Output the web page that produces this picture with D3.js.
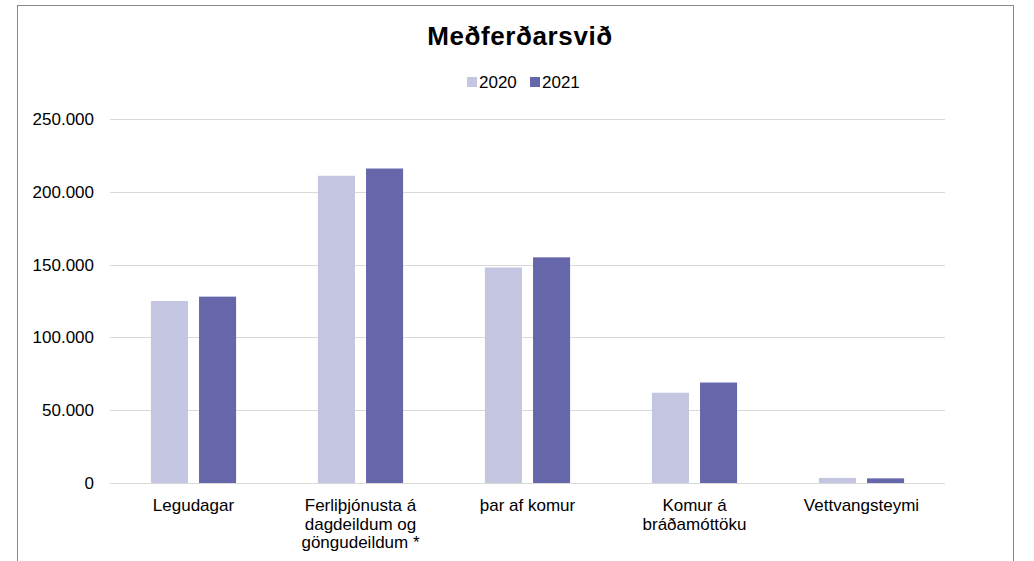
<!DOCTYPE html>
<html lang="is">
<head>
    <meta charset="UTF-8">
    <title>Meðferðarsvið</title>
    <script src="https://d3js.org/d3.v7.min.js"></script>
    <style>
        body {
            margin: 0;
            background: #fff;
            font-family: "Liberation Sans", Arial, sans-serif;
        }
        .grid line { stroke: #d9d9d9; stroke-width: 1; }
        .axis text { font-size: 17px; fill: #000; }
        .title { font-size: 26px; font-weight: bold; text-anchor: middle; letter-spacing: 0.6px; }
        .legend text { font-size: 17px; }
    </style>
</head>
<body>
<svg id="chart"></svg>
<script>
    const width = 1034, height = 561;

    const categories = [
        "Legudagar",
        "Ferliþjónusta á\ndagdeildum og\ngöngudeildum *",
        "þar af komur",
        "Komur á\nbráðamóttöku",
        "Vettvangsteymi"
    ];
    const seriesNames = ["2020", "2021"];
    const values2020 = [125000, 211000, 148000, 62000, 3500];
    const values2021 = [128000, 216000, 155000, 69000, 3200];
    const colors = ["#c4c6e1", "#6667aa"];
    const yTicks = [0, 50000, 100000, 150000, 200000, 250000];

    const data = categories.map((c, i) => ({ cat: c, vals: [values2020[i], values2021[i]] }));

    const svg = d3.select("#chart").attr("width", width).attr("height", height);

    // outer frame
    svg.append("rect")
        .attr("x", 17.5).attr("y", 5.5)
        .attr("width", 996).attr("height", 570)
        .attr("fill", "none").attr("stroke", "#888").attr("stroke-width", 1);

    const x0 = d3.scaleBand().domain(categories).range([110, 945])
        .paddingInner(0.49).paddingOuter(0.245);
    const x1 = d3.scaleBand().domain(seriesNames).range([0, x0.bandwidth()])
        .paddingInner(0.23).paddingOuter(0);
    const y = d3.scaleLinear().domain([0, 250000]).range([483, 119]);

    const fmt = v => d3.format(",")(v).replace(/,/g, ".");

    // gridlines
    svg.append("g").attr("class", "grid")
        .selectAll("line").data(yTicks).enter().append("line")
        .attr("x1", 110).attr("x2", 945)
        .attr("y1", d => Math.round(y(d)) + 0.5)
        .attr("y2", d => Math.round(y(d)) + 0.5);

    // y labels
    svg.append("g").attr("class", "axis")
        .selectAll("text").data(yTicks).enter().append("text")
        .attr("x", 94).attr("y", d => y(d))
        .attr("dy", "0.35em")
        .attr("text-anchor", "end")
        .text(d => fmt(d));

    // bars
    const groups = svg.append("g").selectAll("g").data(data).enter().append("g")
        .attr("transform", d => `translate(${x0(d.cat)},0)`);
    groups.selectAll("rect")
        .data(d => d.vals.map((v, i) => ({ name: seriesNames[i], v, i })))
        .enter().append("rect")
        .attr("x", d => x1(d.name))
        .attr("width", x1.bandwidth())
        .attr("y", d => y(d.v))
        .attr("height", d => y(0) - y(d.v))
        .attr("fill", d => colors[d.i]);

    // category labels
    const catLabels = svg.append("g").attr("class", "axis")
        .selectAll("text").data(categories).enter().append("text")
        .attr("text-anchor", "middle")
        .attr("transform", d => `translate(${x0(d) + x0.bandwidth() / 2},511)`);
    catLabels.each(function(d) {
        const t = d3.select(this);
        d.split("\n").forEach((line, i) => {
            t.append("tspan").attr("x", 0).attr("y", i * 18.5).text(line);
        });
    });

    // title
    svg.append("text").attr("class", "title")
        .attr("x", 520).attr("y", 45)
        .text("Meðferðarsvið");

    // legend
    const legend = svg.append("g").attr("class", "legend")
        .attr("transform", "translate(467,88)");
    const legendItems = legend.selectAll("g").data(seriesNames).enter().append("g")
        .attr("transform", (d, i) => `translate(${i * 63},0)`);
    legendItems.append("rect")
        .attr("x", 0).attr("y", -11).attr("width", 10).attr("height", 10)
        .attr("fill", (d, i) => colors[i]);
    legendItems.append("text")
        .attr("x", 12).attr("y", 0)
        .text(d => d);
</script>
</body>
</html>
